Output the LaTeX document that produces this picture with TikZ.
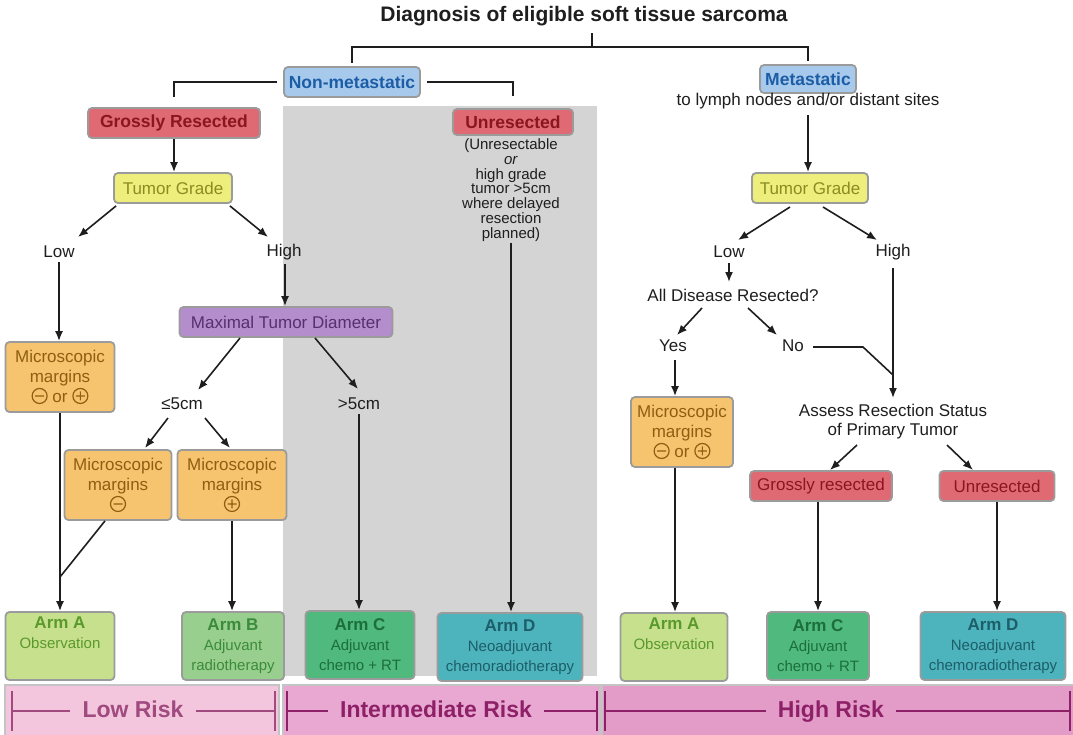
\documentclass[tikz,border=0pt]{standalone}
\usepackage{fontspec}
\setmainfont{Liberation Sans}
\usetikzlibrary{arrows.meta, positioning}

\definecolor{linecol}{HTML}{1E1E1E}
\definecolor{rimgray}{HTML}{9B9B9B}
\definecolor{bggray}{HTML}{D4D4D4}
\definecolor{blueFill}{HTML}{A7CAEC}
\definecolor{blueText}{HTML}{1D5DA6}
\definecolor{redFill}{HTML}{DF6A73}
\definecolor{redText}{HTML}{8A1620}
\definecolor{yelFill}{HTML}{EEEE7C}
\definecolor{yelText}{HTML}{8C8A22}
\definecolor{purFill}{HTML}{B48DCC}
\definecolor{purText}{HTML}{55316F}
\definecolor{orgFill}{HTML}{F6C36E}
\definecolor{orgText}{HTML}{8F5E12}
\definecolor{armAFill}{HTML}{C7E08D}
\definecolor{armAText}{HTML}{5A992C}
\definecolor{armBFill}{HTML}{99CF8E}
\definecolor{armBText}{HTML}{3B8B3C}
\definecolor{armCFill}{HTML}{4FB97E}
\definecolor{armCText}{HTML}{1C6E3B}
\definecolor{armDFill}{HTML}{4DB3BC}
\definecolor{armDText}{HTML}{1C5E69}
\definecolor{lowFill}{HTML}{F3C6DE}
\definecolor{midFill}{HTML}{E8A8D1}
\definecolor{highFill}{HTML}{E39BC7}
\definecolor{lowText}{HTML}{A04A80}
\definecolor{riskText}{HTML}{8E2068}
\definecolor{barRim}{HTML}{C4C4C4}

% circled signs for the margins
\newcommand{\signminus}{\tikz[baseline=-0.7ex]{\draw[orgText, line width=1.2pt] (0pt,0pt) circle (7.5pt) (-4.5pt,0pt) -- (4.5pt,0pt);}}
\newcommand{\signplus}{\tikz[baseline=-0.7ex]{\draw[orgText, line width=1.2pt] (0pt,0pt) circle (7.5pt) (-4.5pt,0pt) -- (4.5pt,0pt) (0pt,-4.5pt) -- (0pt,4.5pt);}}

\begin{document}
\begin{tikzpicture}[
    x=1pt, y=-1pt,
    >={Latex[length=10pt,width=8pt]}, % arrow tips
    every node/.style={font=\fontsize{17}{20}\selectfont, text=linecol},
    box/.style={draw=rimgray, line width=1.8pt, rounded corners=4pt, inner sep=1pt, align=center},
    boldbox/.style={box, font=\bfseries\fontsize{17.5}{20}\selectfont},
    lbl/.style={inner sep=1pt, align=center},
    marg/.style={box, fill=orgFill, text=orgText, minimum height=70},
    arm/.style={box, minimum height=68, font=\fontsize{15}{20}\selectfont},
    link/.style={draw=linecol, line width=1.6pt},
    flow/.style={link, ->},
    risk/.style={font=\bfseries\fontsize{23}{26}\selectfont, inner xsep=12pt, inner ysep=2pt, text height=16.5pt, text depth=4.5pt},
    riskline/.style={line width=1.5pt}
]
    \useasboundingbox (0,0) rectangle (1073,734);

    % shaded column and risk bars
    \fill[bggray] (283,106) rectangle (597,676);
    \filldraw[fill=lowFill, draw=barRim, line width=1.5pt] (5,685) rectangle (279,740);
    \filldraw[fill=midFill, draw=barRim, line width=1.5pt] (283,685) rectangle (600,740);
    \filldraw[fill=highFill, draw=barRim, line width=1.5pt] (602,685) rectangle (1078,740);

    % Top
    \node[font=\bfseries\fontsize{21}{24}\selectfont] (title) at (584,16) {Diagnosis of eligible soft tissue sarcoma};
    \coordinate (tick) at (592,33);
    \coordinate (split) at (592,47);
    \node[boldbox, fill=blueFill, text=blueText, minimum width=136, minimum height=30] (nonmet) at (352,82) {Non-metastatic};
    \node[boldbox, fill=blueFill, text=blueText, minimum width=96, minimum height=28] (met) at (808,79) {Metastatic};
    \node[lbl] (metnote) at (808,101) {to lymph nodes and/or distant sites};

    % Non-metastatic side
    \node[boldbox, fill=redFill, text=redText, minimum width=172, minimum height=30] (gross1) at (174,123) {Grossly Resected};
    \node[boldbox, fill=redFill, text=redText, minimum width=120, minimum height=26] (unres1) at (513,122) {Unresected};
    \node[lbl, font=\fontsize{15}{14.8}\selectfont] (unresnote) at (511,190) {(Unresectable\\\textit{or}\\high grade\\tumor >5cm\\where delayed\\resection\\planned)};
    \node[box, fill=yelFill, text=yelText, minimum width=118, minimum height=30] (tg1) at (173,188) {Tumor Grade};
    \node[lbl] (low1) at (59,252) {Low};
    \node[lbl] (high1) at (284,252) {High};
    \node[box, fill=purFill, text=purText, minimum width=213, minimum height=30] (mtd) at (286,322) {Maximal Tumor Diameter};
    \node[marg, minimum width=109] (mm1) at (60,377) {Microscopic\\margins\\\signminus{} or \signplus};
    \node[lbl] (le5) at (182,404) {≤5cm};
    \node[lbl] (gt5) at (359,404) {>5cm};
    \node[marg, minimum width=107] (mmneg) at (118,485) {Microscopic\\margins\\\signminus};
    \node[marg, minimum width=109] (mmpos) at (232,485) {Microscopic\\margins\\\signplus};

    % Metastatic side
    \node[box, fill=yelFill, text=yelText, minimum width=116, minimum height=30] (tg2) at (810,188) {Tumor Grade};
    \node[lbl] (low2) at (729,252) {Low};
    \node[lbl] (high2) at (893,252) {High};
    \node[lbl] (alldis) at (733,295) {All Disease Resected?};
    \node[lbl] (yes) at (673,346) {Yes};
    \node[lbl] (no) at (793,346) {No};
    \node[marg, minimum width=102] (mm2) at (682,432) {Microscopic\\margins\\\signminus{} or \signplus};
    \node[lbl, font=\fontsize{17}{19}\selectfont] (assess) at (893,422) {Assess Resection Status\\of Primary Tumor};
    \node[box, fill=redFill, text=redText, minimum width=142, minimum height=30] (gross2) at (821,486) {Grossly resected};
    \node[box, fill=redFill, text=redText, minimum width=115, minimum height=30] (unres2) at (997,486) {Unresected};
    \coordinate (nobend) at (863,347);
    \coordinate (merge) at (893,375);
    \coordinate (join) at (60,577);

    % Arms
    \node[arm, fill=armAFill, text=armAText, minimum width=109] (armA1) at (60,646) {\textbf{\fontsize{17}{20}\selectfont Arm A}\\Observation\\\strut};
    \node[arm, fill=armBFill, text=armBText, minimum width=102] (armB) at (233,646) {\textbf{\fontsize{17}{20}\selectfont Arm B}\\Adjuvant\\radiotherapy};
    \node[arm, fill=armCFill, text=armCText, minimum width=109] (armC1) at (360,645) {\textbf{\fontsize{17}{20}\selectfont Arm C}\\Adjuvant\\chemo + RT};
    \node[arm, fill=armDFill, text=armDText, minimum width=145] (armD1) at (510,647) {\textbf{\fontsize{17}{20}\selectfont Arm D}\\Neoadjuvant\\chemoradiotherapy};
    \node[arm, fill=armAFill, text=armAText, minimum width=107] (armA2) at (674,647) {\textbf{\fontsize{17}{20}\selectfont Arm A}\\Observation\\\strut};
    \node[arm, fill=armCFill, text=armCText, minimum width=102] (armC2) at (818,646) {\textbf{\fontsize{17}{20}\selectfont Arm C}\\Adjuvant\\chemo + RT};
    \node[arm, fill=armDFill, text=armDText, minimum width=145] (armD2) at (993,646) {\textbf{\fontsize{17}{20}\selectfont Arm D}\\Neoadjuvant\\chemoradiotherapy};

    % Risk labels
    \node[risk, text=lowText] (lowrisk) at (133,711) {Low Risk};
    \node[risk, text=riskText] (midrisk) at (436,711) {Intermediate Risk};
    \node[risk, text=riskText] (highrisk) at (831,711) {High Risk};
    \draw[riskline, lowText] (12,691) -- (12,731) (12,711) -- (lowrisk.west) (lowrisk.east) -- (275,711) (275,691) -- (275,731);
    \draw[riskline, riskText] (287,691) -- (287,731) (287,711) -- (midrisk.west) (midrisk.east) -- (597,711) (597,691) -- (597,731);
    \draw[riskline, riskText] (605,691) -- (605,731) (605,711) -- (highrisk.west) (highrisk.east) -- (1070,711) (1070,691) -- (1070,731);

    % Brackets
    \draw[link] (tick) -- (split);
    \draw[link, shorten <=3pt, shorten >=3pt] (nonmet.north) |- (split) -| (met.north);
    \draw[link, shorten <=6pt, shorten >=10pt] (nonmet.west) -| (gross1.north);
    \draw[link, shorten <=6pt, shorten >=12pt] (nonmet.east) -| (unres1.north);

    % Arrows, non-metastatic
    \draw[flow] (gross1.south) -- (gross1.south |- tg1.north);
    \draw[flow] ([shift={(3,2)}]tg1.south west) -- ([shift={(19,-15)}]low1.center);
    \draw[flow] ([shift={(-3,2)}]tg1.south east) -- ([shift={(-16,-15)}]high1.center);
    \draw[flow, shorten <=3pt] (low1.south) -- (low1.south |- mm1.north);
    \draw[flow, shorten <=3pt] ([xshift=1pt]high1.south) -- ([xshift=1pt]high1.south |- mtd.north);
    \draw[flow] ([shift={(-46,16)}]mtd.center) -- ([shift={(16,-14)}]le5.center);
    \draw[flow] ([shift={(29,16)}]mtd.center) -- ([shift={(-1,-15)}]gt5.center);
    \draw[flow] ([shift={(-14,14)}]le5.center) -- ([shift={(27,-37)}]mmneg.center);
    \draw[flow] ([shift={(23,14)}]le5.center) -- ([shift={(-2,-37)}]mmpos.center);
    \draw[flow] (mm1.south) -- (mm1.south |- armA1.north);
    \draw[link] ([xshift=-13pt]mmneg.south) -- (join);
    \draw[flow] (mmpos.south) -- (mmpos.south |- armB.north);
    \draw[flow, shorten <=3pt] (gt5.south) -- (gt5.south |- armC1.north);
    \draw[flow] (unresnote.south) -- (unresnote.south |- armD1.north);

    % Arrows, metastatic
    \draw[flow, shorten <=5pt] (metnote.south -| met.south) -- (met.south |- tg2.north);
    \draw[flow] ([shift={(-20,19)}]tg2.center) -- ([shift={(9,-12)}]low2.center);
    \draw[flow] ([shift={(13,19)}]tg2.center) -- ([shift={(-16,-12)}]high2.center);
    \draw[flow] ([shift={(0,11)}]low2.center) -- ([shift={(-4,-13)}]alldis.center);
    \draw[flow] ([shift={(-31,13)}]alldis.center) -- ([shift={(4,-11)}]yes.center);
    \draw[flow] ([shift={(15,13)}]alldis.center) -- ([shift={(-16,-11)}]no.center);
    \draw[link] ([shift={(20,1)}]no.center) -- (nobend) -- (merge);
    \draw[flow] ([shift={(0,16)}]high2.center) -- ([shift={(0,-24)}]assess.center);
    \draw[flow] ([shift={(2,14)}]yes.center) -- ([xshift=-7pt]mm2.north);
    \draw[flow] ([xshift=-7pt]mm2.south) -- ([xshift=-7pt]mm2.south |- armA2.north);
    \draw[flow] ([shift={(-36,23)}]assess.center) -- ([shift={(9,-16)}]gross2.center);
    \draw[flow] ([shift={(54,23)}]assess.center) -- ([shift={(-24,-16)}]unres2.center);
    \draw[flow] ([xshift=-3pt]gross2.south) -- ([xshift=-3pt]gross2.south |- armC2.north);
    \draw[flow] (unres2.south) -- (unres2.south |- armD2.north);

\end{tikzpicture}
\end{document}
